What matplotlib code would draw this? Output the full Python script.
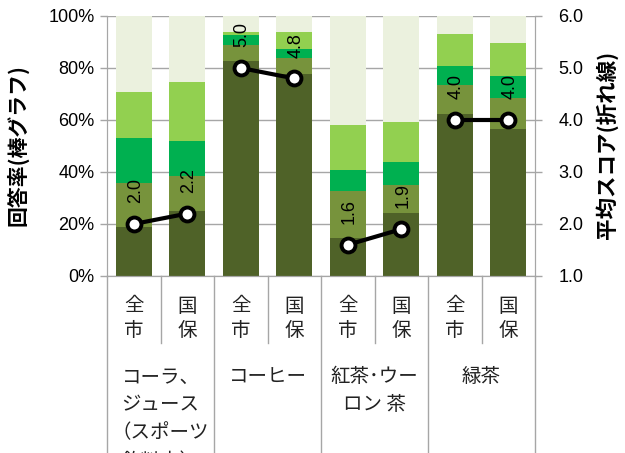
import matplotlib
matplotlib.use("Agg")
import matplotlib.pyplot as plt
from matplotlib.lines import Line2D
from matplotlib.ticker import FuncFormatter, MultipleLocator
import matplotlib.transforms as mtransforms

plt.rcParams['font.family'] = ['Noto Sans CJK JP', 'DejaVu Sans']

# category labels
groups = [["コーラ、", "ジュース", "（スポーツ", "飲料水）"],
          ["コーヒー"],
          ["紅茶･ウー", "ロン 茶"],
          ["緑茶"]]
subs = [["全", "市"], ["国", "保"]]

# response shares (%) per level, stacked bottom to top
lvl1 = [19.0, 25.1, 82.7, 77.7, 14.6, 24.1, 62.2, 56.7]
lvl2 = [16.9, 13.5, 6.1, 6.0, 18.1, 11.0, 11.3, 11.8]
lvl3 = [17.3, 13.5, 4.0, 3.6, 8.2, 8.6, 7.3, 8.6]
lvl4 = [17.7, 22.6, 1.2, 6.7, 17.3, 15.7, 12.4, 12.5]
lvl5 = [29.1, 25.3, 6.0, 6.0, 41.8, 40.6, 6.8, 10.4]

# mean score (line, right axis)
scores = [2.0, 2.2, 5.0, 4.8, 1.6, 1.9, 4.0, 4.0]

colors = ["#4F6228", "#77933C", "#00B050", "#92D050", "#EBF1DE"]
grid_c = "#A6A6A6"
num_font = "Liberation Sans"

fig = plt.figure(figsize=(6.25, 4.53), dpi=100)
ax = fig.add_axes([107/625, 1-276/453, 428/625, 260/453])
ax2 = ax.twinx()

x = list(range(len(lvl1)))
bottom = [0.0]*len(x)
for vals, c in zip([lvl1, lvl2, lvl3, lvl4, lvl5], colors):
    ax.bar(x, vals, width=0.67, bottom=bottom, color=c, zorder=2, linewidth=0)
    bottom = [b+v for b, v in zip(bottom, vals)]

ax.set_xlim(-0.5, 7.5)
ax.set_ylim(0, 100)
ax.yaxis.set_major_locator(MultipleLocator(20))
ax.yaxis.set_major_formatter(FuncFormatter(lambda v, p: f"{v:.0f}%"))
ax.grid(axis='y', color=grid_c, linewidth=1.0, zorder=0)
ax.set_xticks([])
ax.tick_params(axis='y', direction='out', length=5, color=grid_c, width=1.0,
               labelsize=13, pad=4)
for lab in ax.get_yticklabels():
    lab.set_fontfamily(num_font)
ax.spines['top'].set_visible(False)
for s in ['left', 'bottom', 'right']:
    ax.spines[s].set_color(grid_c)

ax2.set_ylim(1, 6)
ax2.yaxis.set_major_locator(MultipleLocator(1))
ax2.yaxis.set_major_formatter(FuncFormatter(lambda v, p: f"{v:.1f}"))
ax2.tick_params(axis='y', direction='out', length=5, color=grid_c, width=1.0,
                labelsize=13, pad=12)
for lab in ax2.get_yticklabels():
    lab.set_fontfamily(num_font)
ax2.spines['top'].set_visible(False)
for s in ['left', 'bottom', 'right']:
    ax2.spines[s].set_color(grid_c)

# score line: one segment per drink group
for g in range(4):
    xs = x[2*g:2*g+2]
    ys = scores[2*g:2*g+2]
    ax2.plot(xs, ys, color='black', linewidth=3, marker='o', markersize=10,
             markerfacecolor='white', markeredgecolor='black',
             markeredgewidth=2.8, zorder=5)
for xi, s in zip(x, scores):
    ax2.annotate(f"{s:.1f}", (xi, s), xytext=(1, 15), textcoords='offset points',
                 rotation=90, ha='center', va='bottom', fontsize=13,
                 fontfamily=num_font, color='black')

ax.set_ylabel("回答率(棒グラフ)", fontsize=15, fontweight='bold')
ax2.set_ylabel("平均スコア(折れ線)", fontsize=15.5, fontweight='bold')
ax.yaxis.set_label_coords(-0.183, 0.505)
ax2.yaxis.set_label_coords(1.14, 0.505)

# multi-level category axis
trans = mtransforms.blended_transform_factory(ax.transData, ax.transAxes)
px = 1/260.0
for g in range(4):
    xs = g*2 + 0.5
    ax.add_line(Line2D([xs, xs], [0, -67*px], transform=trans, color=grid_c,
                       linewidth=1.0, clip_on=False))
for xb in [-0.5, 1.5, 3.5, 5.5, 7.5]:
    ax.add_line(Line2D([xb, xb], [0, -190*px], transform=trans, color=grid_c,
                       linewidth=1.0, clip_on=False))

for i in x:
    chars = subs[i % 2]
    for k, ch in enumerate(chars):
        ax.text(i, -(30 + 24*k)*px, ch, transform=trans, ha='center',
                va='center', fontsize=14, color='#222222', clip_on=False)

for g, lines in enumerate(groups):
    for k, line in enumerate(lines):
        ax.text(2*g + 0.5, -(101 + 28*k)*px, line, transform=trans,
                ha='center', va='center', fontsize=14, color='#222222',
                clip_on=False)

fig.savefig("out.png", dpi=100)
